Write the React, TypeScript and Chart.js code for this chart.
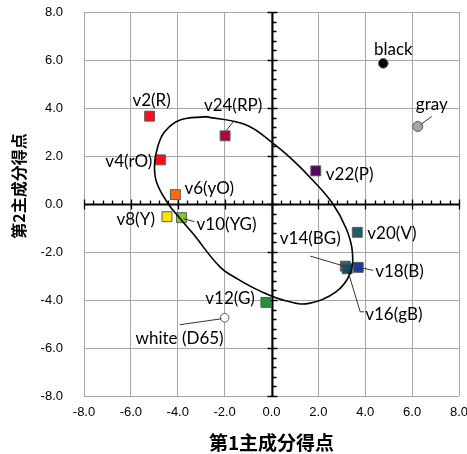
import { useEffect, useRef } from 'react';
import { Chart, registerables } from 'chart.js';

Chart.register(...registerables);

// ---- data ----
const pointNames = ['v2(R)', 'v4(rO)', 'v6(yO)', 'v8(Y)', 'v10(YG)', 'v12(G)', 'v14(BG)', 'v16(gB)', 'v18(B)', 'v20(V)', 'v22(P)', 'v24(RP)', 'black', 'gray', 'white (D65)'];
const pc1Scores = [-5.2, -4.74, -4.1, -4.46, -3.84, -0.24, 3.15, 3.23, 3.7, 3.66, 1.89, -1.98, 4.77, 6.24, -2.0];
const pc2Scores = [3.66, 1.84, 0.39, -0.53, -0.57, -4.1, -2.59, -2.7, -2.64, -1.18, 1.38, 2.84, 5.86, 3.23, -4.74];

const ellipseX = [-2.8, -1.1, 0.0, 0.9, 1.75, 2.6, 3.2, 3.45, 3.35, 2.75, 1.6, 0.6, -0.5, -1.4, -2.2, -3.36, -3.93, -4.4, -4.9, -4.99, -4.85, -4.55, -3.9, -2.8];
const ellipseY = [3.64, 3.3, 2.58, 1.84, 1.0, 0.03, -1.05, -2.0, -2.9, -3.66, -4.14, -4.03, -3.62, -3.15, -2.62, -1.22, -0.57, 0.0, 0.9, 1.65, 2.4, 3.02, 3.5, 3.64];

const tickValues = [-8, -6, -4, -2, 0, 2, 4, 6, 8];
const xTitle = '第1主成分得点';
const yTitle = '第2主成分得点';

// ---- styles ----
const fillColors = ['#FF0D1E', '#FF0A14', '#FF6A0A', '#FFE30A', '#7FD01E', '#1E9438', '#236E58', '#124D6A', '#1C3A9C', '#1F5E62', '#5B0068', '#B0063C', '#000000', '#A6A6A6', '#FFFFFF'];
const shapes = ['rect', 'rect', 'rect', 'rect', 'rect', 'rect', 'rect', 'rect', 'rect', 'rect', 'rect', 'rect', 'circle', 'circle', 'circle'];
const radii = [7, 7, 7, 7, 7, 7, 7, 7, 7, 7, 7, 7, 4.8, 5, 4.3];

// label placement: [dx, dy, align, leader polyline offsets]
type Lay = [number, number, CanvasTextAlign, number[][]];
const labelLayout: Lay[] = [
  [2, -16, 'center', []],
  [-8, 2, 'right', []],
  [9, -6, 'left', []],
  [-12, 3, 'right', []],
  [15, 7, 'left', [[2, 1], [13, 4]]],
  [-11, -4, 'right', []],
  [-35, -28, 'center', [[-35, -10], [-1, 0]]],
  [18, 46, 'left', [[0, 0], [13, 43], [17, 43]]],
  [17, 4, 'left', [[1, 0], [15, 3]]],
  [10, 1, 'left', []],
  [10, 4, 'left', []],
  [8, -30, 'center', [[1, -5], [8, -14]]],
  [10, -14, 'center', []],
  [14, -22, 'center', [[3, -2], [14, -10]]],
  [-45, 21, 'center', [[-3, 1], [-45, 7]]],
];

const centerAxes = {
  id: 'centerAxes',
  beforeDatasetsDraw(chart: any) {
    const { ctx, scales } = chart;
    const xs = scales.x, ys = scales.y;
    const x0 = Math.round(xs.getPixelForValue(0)) + 0.5;
    const y0 = Math.round(ys.getPixelForValue(0)) + 0.5;
    ctx.save();
    ctx.strokeStyle = '#000';
    ctx.lineWidth = 2;
    ctx.beginPath();
    ctx.moveTo(xs.left, y0); ctx.lineTo(xs.right, y0);
    ctx.moveTo(x0, ys.top); ctx.lineTo(x0, ys.bottom);
    ctx.stroke();
    ctx.lineWidth = 1.3;
    ctx.beginPath();
    for (let i = 0; i <= 40; i++) {
      const v = -8 + i * 0.4;
      const major = i % 5 === 0;
      const px = Math.round(xs.getPixelForValue(v)) + 0.5;
      const py = Math.round(ys.getPixelForValue(v)) + 0.5;
      if (major) {
        ctx.moveTo(px, y0 - 5); ctx.lineTo(px, y0 + 5);
        ctx.moveTo(x0 - 5, py); ctx.lineTo(x0 + 5, py);
      } else {
        ctx.moveTo(px, y0 - 4); ctx.lineTo(px, y0);
        ctx.moveTo(x0, py); ctx.lineTo(x0 + 4, py);
      }
    }
    ctx.stroke();
    ctx.restore();
  },
  afterDraw(chart: any) {
    const { ctx } = chart;
    ctx.save();
    ctx.translate(18.5, 186);
    ctx.rotate(-Math.PI / 2);
    ctx.font = 'bold 16px "Noto Sans CJK JP"';
    ctx.fillStyle = '#000';
    ctx.textAlign = 'center';
    ctx.textBaseline = 'middle';
    ctx.fillText(yTitle, 0, 0);
    ctx.restore();
  },
};

const pointLabels = {
  id: 'pointLabels',
  afterDatasetsDraw(chart: any) {
    const { ctx } = chart;
    const meta = chart.getDatasetMeta(1);
    ctx.save();
    ctx.font = '17px Lato';
    ctx.fillStyle = '#000';
    ctx.textBaseline = 'middle';
    ctx.strokeStyle = '#333';
    ctx.lineWidth = 1;
    meta.data.forEach((el: any, i: number) => {
      const [dx, dy, align, leader] = labelLayout[i];
      if (leader.length) {
        ctx.beginPath();
        leader.forEach(([lx, ly], k) => {
          if (k === 0) ctx.moveTo(el.x + lx, el.y + ly);
          else ctx.lineTo(el.x + lx, el.y + ly);
        });
        ctx.stroke();
      }
      ctx.textAlign = align;
      ctx.fillText(pointNames[i], el.x + dx, el.y + dy);
    });
    ctx.restore();
  },
};

export default function App() {
  const ref = useRef<HTMLCanvasElement>(null);
  useEffect(() => {
    const chart = new Chart(ref.current as HTMLCanvasElement, {
      type: 'scatter',
      data: {
        datasets: [
          {
            label: 'ellipse',
            data: ellipseX.map((x, i) => ({ x, y: ellipseY[i] })),
            showLine: true,
            tension: 0.4,
            borderColor: '#000',
            borderWidth: 1.6,
            pointRadius: 0,
            fill: false,
          },
          {
            label: 'scores',
            data: pc1Scores.map((x, i) => ({ x, y: pc2Scores[i] })),
            pointStyle: shapes as any,
            pointRadius: radii,
            backgroundColor: fillColors,
            borderColor: '#595959',
            borderWidth: 1,
          },
        ],
      },
      options: {
        responsive: false,
        animation: false,
        layout: { padding: { top: 12, right: 7, left: 0, bottom: 0 } },
        plugins: { legend: { display: false }, tooltip: { enabled: false } },
        scales: {
          x: {
            type: 'linear',
            min: -8,
            max: 8,
            afterFit: (s: any) => { s.height = 58; s.paddingLeft = 0; s.paddingRight = 0; },
            afterBuildTicks: (s: any) => { s.ticks = tickValues.map((v) => ({ value: v })); },
            ticks: {
              callback: (v: any) => Number(v).toFixed(1),
              font: { family: 'Liberation Sans', size: 13 },
              color: '#000',
              padding: 9,
              maxRotation: 0,
            },
            grid: { color: '#A6A6A6', lineWidth: 1, drawTicks: false },
            border: { display: false },
            title: {
              display: true,
              text: xTitle,
              font: { family: 'Noto Sans CJK JP', size: 19, weight: 'bold' },
              color: '#000',
              padding: { top: 2, bottom: 0 },
            },
          },
          y: {
            type: 'linear',
            min: -8,
            max: 8,
            afterFit: (s: any) => { s.width = 84; s.paddingTop = 0; s.paddingBottom = 0; },
            afterBuildTicks: (s: any) => { s.ticks = tickValues.map((v) => ({ value: v })); },
            ticks: {
              callback: (v: any) => Number(v).toFixed(1),
              font: { family: 'Liberation Sans', size: 13 },
              color: '#000',
              padding: 21,
            },
            grid: { color: '#A6A6A6', lineWidth: 1, drawTicks: false },
            border: { display: false },
            title: { display: false },
          },
        },
      },
      plugins: [centerAxes, pointLabels],
    });
    return () => chart.destroy();
  }, []);
  return (
    <div style={{ position: 'fixed', left: 0, top: 0, width: 467, height: 454, background: '#fff' }}>
      <canvas ref={ref} width={467} height={454} style={{ display: 'block', width: 467, height: 454 }} />
    </div>
  );
}
